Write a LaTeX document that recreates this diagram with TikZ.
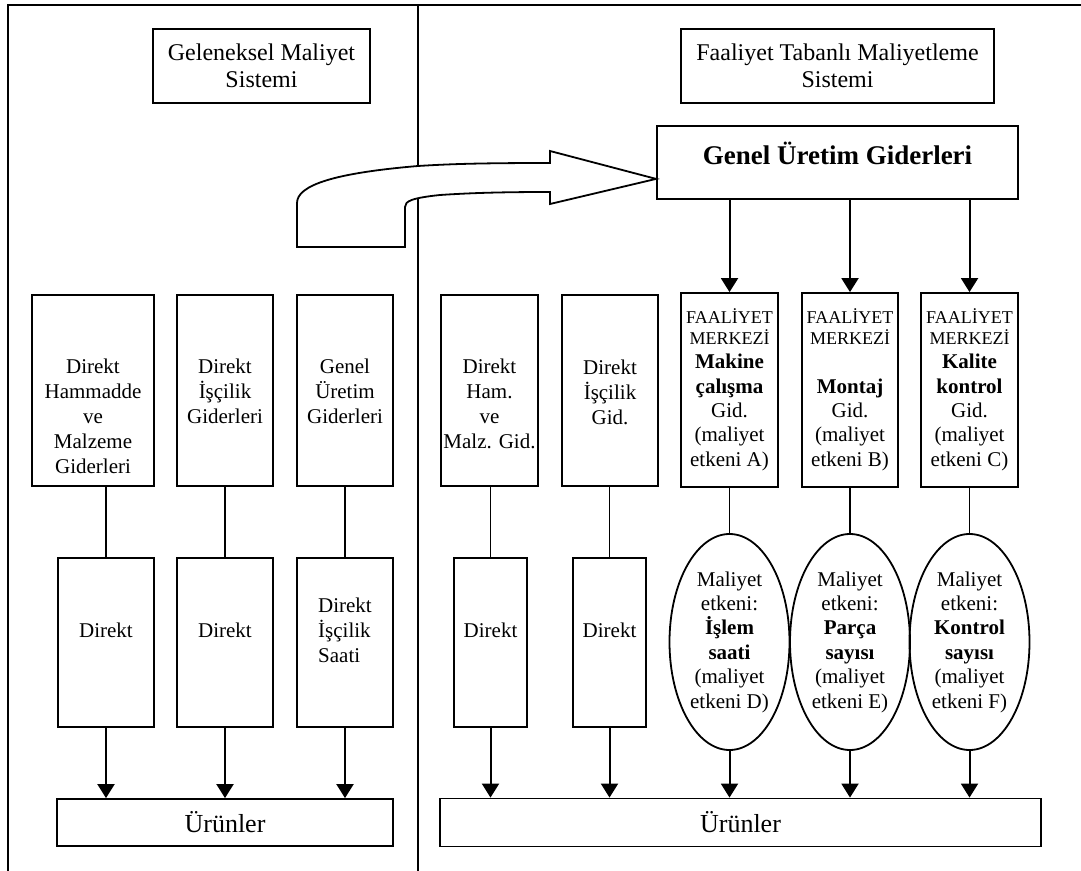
\documentclass[tikz,border=0pt]{standalone}
\usepackage{fontspec}
\setmainfont{Liberation Serif}
\usetikzlibrary{arrows.meta,shapes.geometric}

\newcommand{\kucuk}[1]{{\fontsize{9}{10}\selectfont #1}}

\tikzset{
	kutu/.style={draw,line width=0.9pt,inner sep=1pt,align=center,font=\fontsize{10.5}{12.2}\selectfont},
	yazi/.style={align=center,inner sep=0pt,font=\fontsize{10.5}{12.5}\selectfont},
	elips/.style={draw,ellipse,line width=0.9pt,inner sep=0pt,minimum width=60pt,minimum height=108pt,align=center,font=\fontsize{10.5}{12.2}\selectfont},
	ok/.style={line width=1pt,-{Triangle[length=7pt,width=8.5pt]}},
	hat/.style={line width=0.9pt}
}

\begin{document}
\begin{tikzpicture}[x=0.5pt,y=-0.5pt]
	\useasboundingbox (0,0) rectangle (1081,871);
	
	%FRAME
	\draw[hat] (1081,5)--(8,5)--(8,871);
	\draw[hat] (418,5)--(418,871);
	
	%TITLES
	\node[kutu,minimum width=108.5pt,minimum height=37pt,font=\fontsize{12}{13.5}\selectfont] (gel) at (261.5,66) {Geleneksel Maliyet\\Sistemi};
	\node[kutu,minimum width=156.5pt,minimum height=37pt,font=\fontsize{12}{13.5}\selectfont] (ftm) at (837.5,66) {Faaliyet Tabanl\i{} Maliyetleme\\Sistemi};
	\node[kutu,minimum width=180.5pt,minimum height=36.5pt,text depth=9pt,font=\fontsize{13.5}{15}\selectfont\bfseries] (gug) at (837.5,162.5) {Genel Üretim Giderleri};
	
	%BLOCK ARROW
	\draw[hat,fill=white] (297,247)--(297,203) .. controls (297,185) and (335,173) .. (418,166) .. controls (450,164) and (480,163) .. (550,163)--(550,151)--([yshift=10.5pt]gug.south west)--(550,204)--(550,192) .. controls (500,192) and (470,193) .. (440,195) .. controls (412,198) and (405,201) .. (405,207)--(405,247)--cycle;
	
	%LEFT SIDE
	\node[kutu,minimum width=61pt,minimum height=95.5pt] (dhm) at (93,390.5) {};
	\node[kutu,minimum width=48pt,minimum height=95.5pt] (dis) at (225,390.5) {};
	\node[kutu,minimum width=48pt,minimum height=95.5pt] (gug1) at (345,390.5) {};
	\node[yazi] (dhm-t) at (93,416) {Direkt\\Hammadde\\ve\\Malzeme\\Giderleri};
	\node[yazi] (dis-t) at (225,391) {Direkt\\İşçilik\\Giderleri};
	\node[yazi] (gug1-t) at (345,391) {Genel\\Üretim\\Giderleri};
	
	\node[kutu,minimum width=48pt,minimum height=84.5pt] (d1) at (106,642.5) {};
	\node[kutu,minimum width=48pt,minimum height=84.5pt] (d2) at (225,642.5) {};
	\node[kutu,minimum width=48pt,minimum height=84.5pt] (d3) at (345,642.5) {};
	\node[yazi] (d1-t) at (106,630) {Direkt};
	\node[yazi] (d2-t) at (225,630) {Direkt};
	\node[yazi,align=left] (d3-t) at (345,630) {Direkt\\İşçilik\\Saati};
	
	\node[kutu,minimum width=168pt,minimum height=23.5pt,font=\fontsize{13}{15}\selectfont] (urun1) at (225,822.5) {Ürünler};
	
	\draw[hat] (d1.north |- dhm.south)--(d1.north);
	\draw[hat] (dis.south)--(d2.north);
	\draw[hat] (gug1.south)--(d3.north);
	\foreach \n in {d1,d2,d3}
		\draw[ok] (\n.south)--(\n.south |- urun1.north);
	
	%RIGHT SIDE
	\node[kutu,minimum width=48.5pt,minimum height=95.5pt] (dhm2) at (489.5,390.5) {};
	\node[kutu,minimum width=48pt,minimum height=95.5pt] (dis2) at (610,390.5) {};
	\node[yazi] (dhm2-t) at (489.5,404) {Direkt\\Ham.\\ve\\Malz. Gid.};
	\node[yazi] (dis2-t) at (610,392) {Direkt\\İşçilik\\Gid.};
	
	\node[kutu,minimum width=36.5pt,minimum height=84.5pt] (d4) at (490.5,642.5) {};
	\node[kutu,minimum width=36.5pt,minimum height=84.5pt] (d5) at (609.5,642.5) {};
	\node[yazi] (d4-t) at (490.5,630) {Direkt};
	\node[yazi] (d5-t) at (609.5,630) {Direkt};
	
	\node[kutu,minimum width=48.5pt,minimum height=97pt] (fm1) at (729.5,390) {\kucuk{FAALİYET}\\[-2pt]\kucuk{MERKEZİ}\\\textbf{Makine}\\\textbf{çalışma}\\Gid.\\(maliyet\\etkeni A)};
	\node[kutu,minimum width=48pt,minimum height=97pt] (fm2) at (850,390) {\kucuk{FAALİYET}\\[-2pt]\kucuk{MERKEZİ}\\\mbox{}\\\textbf{Montaj}\\Gid.\\(maliyet\\etkeni B)};
	\node[kutu,minimum width=48.5pt,minimum height=97pt] (fm3) at (969.5,390) {\kucuk{FAALİYET}\\[-2pt]\kucuk{MERKEZİ}\\\textbf{Kalite}\\\textbf{kontrol}\\Gid.\\(maliyet\\etkeni C)};
	
	\node[elips] (e1) at (729.5,642) {Maliyet\\etkeni:\\\textbf{İşlem}\\\textbf{saati}\\(maliyet\\etkeni D)};
	\node[elips] (e2) at (850,642) {Maliyet\\etkeni:\\\textbf{Parça}\\\textbf{sayısı}\\(maliyet\\etkeni E)};
	\node[elips] (e3) at (969.5,642) {Maliyet\\etkeni:\\\textbf{Kontrol}\\\textbf{sayısı}\\(maliyet\\etkeni F)};
	
	\node[kutu,minimum width=300.5pt,minimum height=24pt,font=\fontsize{13}{15}\selectfont] (urun2) at (740.5,822.5) {Ürünler};
	
	%CONNECTORS
	\draw[hat] (d4.north |- dhm2.south)--(d4.north);
	\draw[hat] (d5.north |- dis2.south)--(d5.north);
	\foreach \n in {d4,d5}
		\draw[ok] (\n.south)--(\n.south |- urun2.north);
	\foreach \i in {1,2,3}{
		\draw[ok] (fm\i.north |- gug.south)--(fm\i.north);
		\draw[hat] (fm\i.south)--(e\i.north);
		\draw[ok] (e\i.south)--(e\i.south |- urun2.north);
	}
\end{tikzpicture}
\end{document}
